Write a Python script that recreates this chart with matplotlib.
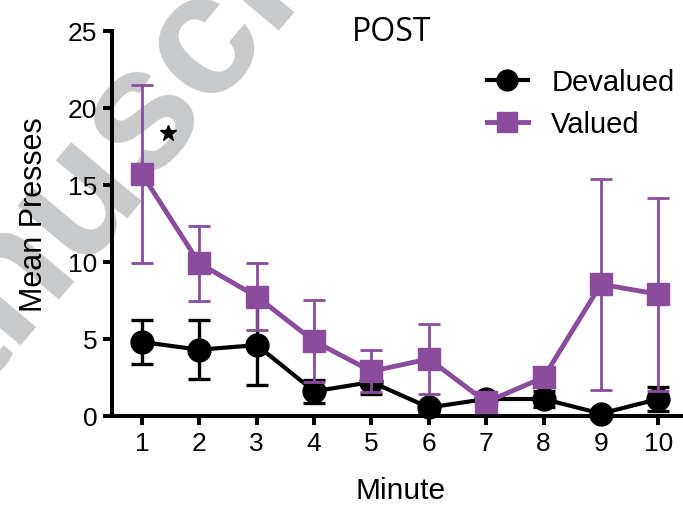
import matplotlib
matplotlib.use('Agg')
import matplotlib.pyplot as plt
import numpy as np
from matplotlib.lines import Line2D

## data
minutes = [1, 2, 3, 4, 5, 6, 7, 8, 9, 10]
deval_mean = [4.8, 4.3, 4.6, 1.6, 2.2, 0.55, 1.1, 1.1, 0.15, 1.1]
deval_sem = [1.45, 1.9, 2.6, 0.75, 0.8, 0.3, 0.3, 0.5, 0.1, 0.8]
val_mean = [15.7, 9.9, 7.75, 4.85, 2.9, 3.7, 0.9, 2.5, 8.55, 7.9]
val_sem = [5.8, 2.45, 2.2, 2.65, 1.35, 2.25, 0.3, 0.4, 6.85, 6.25]
yticks = [0, 5, 10, 15, 20, 25]
star_pos = (1.45, 18.4)

c_purple = '#8B4C9D'
c_mark = '#c8c9cb'
u_font = ['Liberation Sans', 'DejaVu Sans']

fig = plt.figure(figsize=(6.83, 5.06), dpi=100)

## watermark behind everything, split at the "s" so it can be pinned there
wm_xy = (0.214, 0.640)
wm_kw = dict(rotation=50, rotation_mode='anchor', color=c_mark, fontsize=125,
             fontweight='bold', family=u_font, va='baseline', zorder=-5)
fig.text(wm_xy[0], wm_xy[1], 'Manu', ha='right', **wm_kw)
fig.text(wm_xy[0], wm_xy[1], 'script', ha='left', **wm_kw)

ax = fig.add_axes([0.164, 0.176, 0.836, 0.761])
ax.patch.set_alpha(0)

ax.errorbar(minutes, deval_mean, yerr=deval_sem, color='black', lw=3, marker='o', ms=16.5,
            elinewidth=2.4, capsize=8, capthick=2.4, clip_on=False, zorder=3)
ax.errorbar(minutes, val_mean, yerr=val_sem, color=c_purple, lw=3.5, marker='s', ms=16.5,
            elinewidth=2.0, capsize=8, capthick=2.0, clip_on=False, zorder=4)
ax.plot(star_pos[0], star_pos[1], marker='*', color='black', ms=12, ls='none', zorder=5)

ax.set_xlim(0.477, 10.43)
ax.set_ylim(0, 25)
ax.set_xticks(minutes)
ax.set_yticks(yticks)
for s in ['top', 'right']:
    ax.spines[s].set_visible(False)
for s in ['left', 'bottom']:
    ax.spines[s].set_linewidth(2.9)
ax.tick_params(width=2.9, length=6.5, labelsize=19, pad=4)
for lab in ax.get_xticklabels() + ax.get_yticklabels():
    lab.set_family(u_font)

fig.text(0.050, 0.575, 'Mean Presses', rotation=90, fontsize=22, family=u_font, ha='center', va='center')
fig.text(0.587, 0.030, 'Minute', fontsize=21.5, family=u_font, ha='center', va='center')
fig.text(0.574, 0.936, 'POST', fontsize=23, family=['Open Sans', 'DejaVu Sans'], ha='center', va='center')

h_dev = Line2D([], [], color='black', lw=3, marker='o', ms=15)
h_val = Line2D([], [], color=c_purple, lw=3.5, marker='s', ms=15)
fig.legend([h_dev, h_val], ['Devalued', 'Valued'], loc='upper left', bbox_to_anchor=(0.713, 0.864),
           frameon=False, borderpad=0, borderaxespad=0, handlelength=1.4, handletextpad=0.8,
           labelspacing=0.5, prop={'family': u_font, 'size': 21})

plt.savefig('out.png', dpi=100)
